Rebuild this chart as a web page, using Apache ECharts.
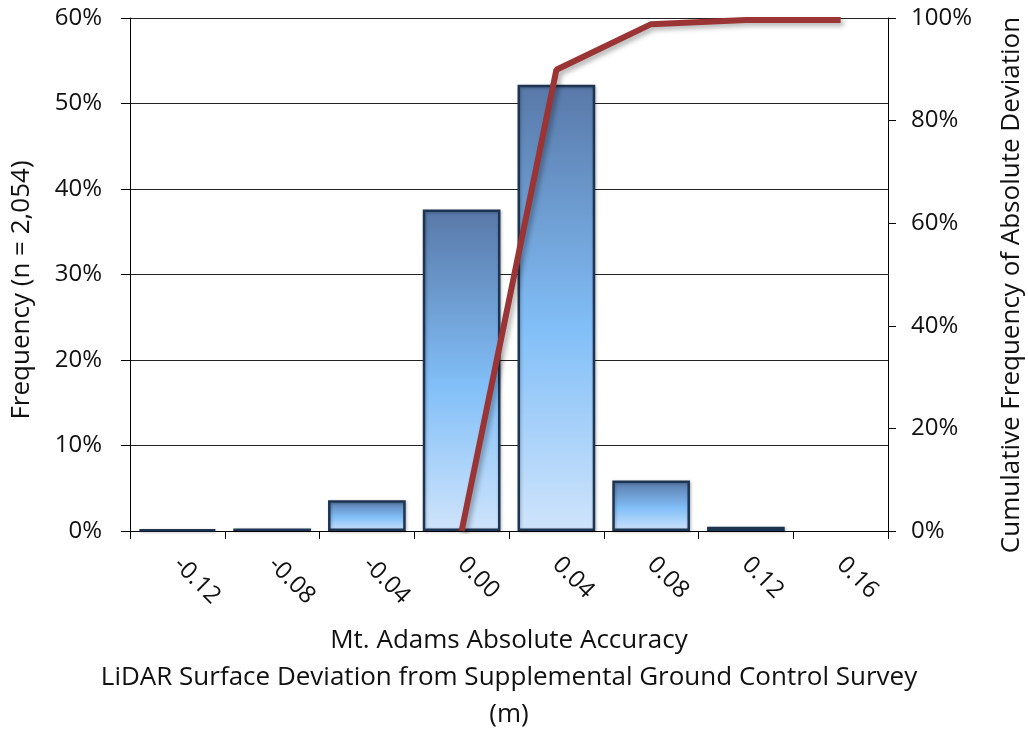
<!DOCTYPE html>
<html><head><meta charset="utf-8">
<script src="https://cdn.jsdelivr.net/npm/echarts@6/dist/echarts.min.js"></script>
<style>html,body{margin:0;padding:0;background:#fff}#c{width:1028px;height:733px}</style>
</head><body><div id="c"></div>
<script>
const categories = ['-0.12','-0.08','-0.04','0.00','0.04','0.08','0.12','0.16'];
const frequency = [0.2, 0.3, 3.6, 37.6, 52.2, 5.9, 0.5, null];
const cumulative = [null, null, null, 0, 89.9, 98.8, 99.6, 99.6];
const leftTicks = [0, 10, 20, 30, 40, 50, 60];
const rightTicks = [0, 20, 40, 60, 80, 100];
const xTitle = 'Mt. Adams Absolute Accuracy\nLiDAR Surface Deviation from Supplemental Ground Control Survey\n(m)';
const leftTitle = 'Frequency (n = 2,054)';
const rightTitle = 'Cumulative Frequency of Absolute Deviation';

const font = '"Open Sans", "Noto Sans", sans-serif';
const chart = echarts.init(document.getElementById('c'));
chart.setOption({
  animation: false,
  backgroundColor: '#fff',
  grid: {left: 130, right: 140, top: 18, bottom: 202, outerBoundsMode: 'none', containLabel: false},
  xAxis: {
    type: 'category', data: categories, boundaryGap: true,
    axisLine: {lineStyle: {color: '#000', width: 1}},
    axisTick: {show: true, alignWithLabel: false, length: 8, lineStyle: {color: '#000'}},
    axisLabel: {rotate: -45, fontSize: 24, color: '#111', fontFamily: font, margin: 30}
  },
  yAxis: [{
    type: 'value', min: leftTicks[0], max: leftTicks[leftTicks.length-1], interval: 10,
    axisLine: {show: true, lineStyle: {color: '#000'}},
    axisTick: {show: true, length: 9, lineStyle: {color: '#000'}},
    splitLine: {show: true, lineStyle: {color: '#222', width: 1}},
    axisLabel: {formatter: v => v + '%', fontSize: 24, color: '#111', fontFamily: font, margin: 28}
  }, {
    type: 'value', min: rightTicks[0], max: rightTicks[rightTicks.length-1], interval: 20,
    position: 'right',
    axisLine: {show: true, lineStyle: {color: '#000'}},
    axisTick: {show: true, length: 8, lineStyle: {color: '#000'}},
    splitLine: {show: false},
    axisLabel: {formatter: v => v + '%', fontSize: 24, color: '#111', fontFamily: font, margin: 23}
  }],
  graphic: [{
    type: 'text', x: 509, y: 622,
    style: {text: xTitle, font: '26px ' + font, fill: '#111', align: 'center', verticalAlign: 'top', lineHeight: 37}
  }, {
    type: 'text', x: 22, y: 290, rotation: Math.PI / 2,
    style: {text: leftTitle, font: '26px ' + font, fill: '#111', align: 'center', verticalAlign: 'middle'}
  }, {
    type: 'text', x: 1012, y: 285, rotation: Math.PI / 2,
    style: {text: rightTitle, font: '26px ' + font, fill: '#111', align: 'center', verticalAlign: 'middle'}
  }],
  series: [{
    type: 'bar', data: frequency, barWidth: '82%', yAxisIndex: 0,
    itemStyle: {
      color: new echarts.graphic.LinearGradient(0, 0, 0, 1, [
        {offset: 0, color: '#5878a8'},
        {offset: 0.55, color: '#82bff8'},
        {offset: 1, color: '#cfe4fb'}
      ], false),
      borderColor: '#1d3453', borderWidth: 2.5,
      shadowColor: 'rgba(0,0,0,0.25)', shadowBlur: 3, shadowOffsetX: 1, shadowOffsetY: 1
    }
  }, {
    type: 'line', data: cumulative, yAxisIndex: 1, symbol: 'none', connectNulls: false,
    lineStyle: {color: '#9b3434', width: 6, shadowColor: 'rgba(0,0,0,0.3)', shadowBlur: 5, shadowOffsetX: 3, shadowOffsetY: 3}
  }]
});
</script></body></html>
